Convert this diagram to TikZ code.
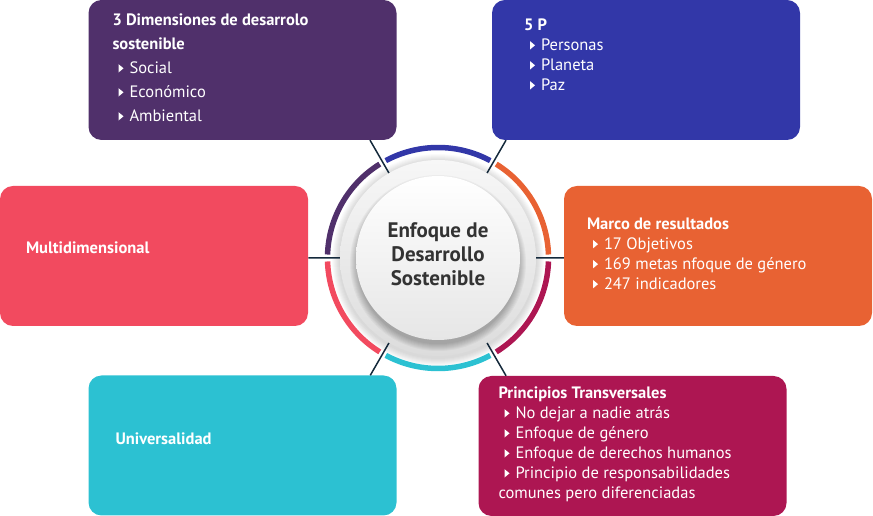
\documentclass[tikz,border=0pt]{standalone}
\usepackage{fontspec}
\setmainfont{PT Sans}
\usetikzlibrary{calc}

\definecolor{dimpurple}{HTML}{50306B}
\definecolor{cincoblue}{HTML}{3237A8}
\definecolor{multired}{HTML}{F24A5F}
\definecolor{marcoorange}{HTML}{E86233}
\definecolor{univcyan}{HTML}{2CC1D2}
\definecolor{princmagenta}{HTML}{AD1652}
\definecolor{linkblue}{HTML}{14293B}
\definecolor{hubtext}{HTML}{333333}
\definecolor{disctop}{HTML}{F7F7F7}
\definecolor{discbottom}{HTML}{DCDCDC}
\definecolor{hubbottom}{HTML}{E6E6E6}

\newcommand{\pointer}{\tikz[baseline=0pt]\fill[white] (0pt,1.2pt) -- (0pt,9.6pt) -- (5pt,5.4pt) -- cycle;}
\newcommand{\bul}[1]{\hspace*{6pt}\pointer\hspace{6pt}#1}

\begin{document}
\begin{tikzpicture}[x=1pt, y=1pt,
    panel/.style={fill=#1, rounded corners=13pt, minimum width=308pt, minimum height=140pt, inner sep=0pt},
    txt/.style={anchor=north west, inner sep=0pt, text=white, align=left, font=\fontsize{16.5}{20}\selectfont},
    link/.style={draw=linkblue, line width=1.5pt},
    ring/.style={line width=5.5pt}]
    \useasboundingbox (0,0) rectangle (873,516);
    \coordinate (mid) at (438,258);

    % discs
    \foreach \k in {1,...,8} \fill[black, opacity=0.02] ([yshift=-2pt]mid) circle (98+\k);
    \node[circle, minimum size=196pt, inner sep=0pt, top color=disctop, bottom color=discbottom] (core) at (mid) {};
    \foreach \k in {1,...,8} \fill[black, opacity=0.035] ([yshift=-5pt]mid) circle (80+\k);
    \node[circle, minimum size=164pt, inner sep=0pt, top color=white, bottom color=hubbottom] (hub) at (mid) {};
    \node[text=hubtext, align=center, font=\bfseries\fontsize{21}{24}\selectfont] (hubtxt) at ([yshift=4pt]hub.center) {Enfoque de\\Desarrollo\\Sostenible};

    % ring
    \foreach \a/\c in {0/marcoorange, 60/cincoblue, 120/dimpurple, 180/multired, 240/univcyan, 300/princmagenta}
        \draw[ring, \c] ([shift={(\a+1.8:110.5)}]mid) arc (\a+1.8:\a+58.2:110.5);

    % boxes
    \node[panel=dimpurple] (dim) at (242.5,446) {};
    \node[panel=cincoblue] (cinco) at (646,446) {};
    \node[panel=multired] (multi) at (154,260) {};
    \node[panel=marcoorange] (marco) at (718,260) {};
    \node[panel=univcyan] (univ) at (242.5,70.5) {};
    \node[panel=princmagenta] (princ) at (632.5,70) {};

    \draw[link] (core.120) -- (intersection of mid--core.120 and dim.south west--dim.south east);
    \draw[link] (core.60) -- (intersection of mid--core.60 and cinco.south west--cinco.south east);
    \draw[link] (core.180) -- (intersection of mid--core.180 and multi.north east--multi.south east);
    \draw[link] (core.0) -- (intersection of mid--core.0 and marco.north west--marco.south west);
    \draw[link] (core.240) -- (intersection of mid--core.240 and univ.north west--univ.north east);
    \draw[link] (core.300) -- (intersection of mid--core.300 and princ.north west--princ.north east);

    % texts
    \node[txt, font=\fontsize{16.5}{24}\selectfont] (dimtxt) at ([shift={(24,-14)}]dim.north west)
        {\textbf{3 Dimensiones de desarrolo}\\\textbf{sostenible}\\\bul{Social}\\\bul{Económico}\\\bul{Ambiental}};
    \node[txt] (cincotxt) at ([shift={(32,-19)}]cinco.north west)
        {\textbf{5 P}\\\bul{Personas}\\\bul{Planeta}\\\bul{Paz}};
    \node[txt, font=\bfseries\fontsize{16.5}{20}\selectfont] (multitxt) at ([shift={(26,-56)}]multi.north west) {Multidimensional};
    \node[txt] (marcotxt) at ([shift={(23,-32)}]marco.north west)
        {\textbf{Marco de resultados}\\\bul{17 Objetivos}\\\bul{169 metas nfoque de género}\\\bul{247 indicadores}};
    \node[txt, font=\bfseries\fontsize{16.5}{20}\selectfont] (univtxt) at ([shift={(27,-57)}]univ.north west) {Universalidad};
    \node[txt] (princtxt) at ([shift={(20,-11)}]princ.north west)
        {\textbf{Principios Transversales}\\\bul{No dejar a nadie atrás}\\\bul{Enfoque de género}\\\bul{Enfoque de derechos humanos}\\\bul{Principio de responsabilidades}\\comunes pero diferenciadas};
\end{tikzpicture}
\end{document}
